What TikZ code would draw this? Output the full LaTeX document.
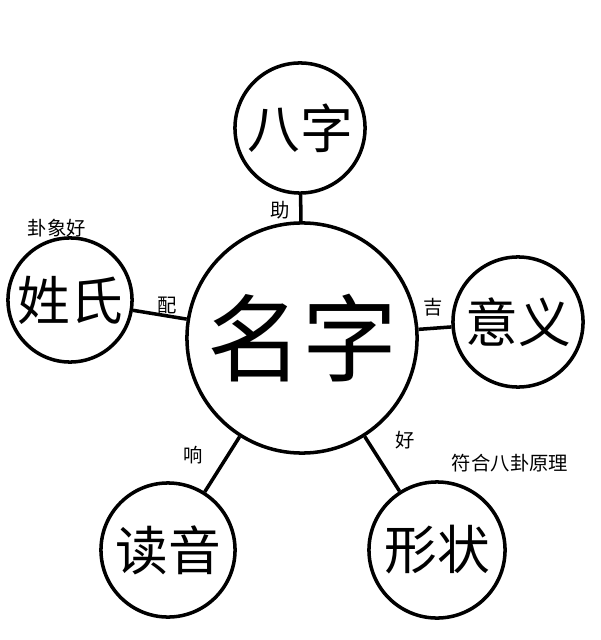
\documentclass[tikz,border=0pt]{standalone}
\usepackage{fontspec}
\setmainfont{Noto Sans CJK SC}
\usetikzlibrary{positioning}
\tikzset{
  ball/.style={draw, circle, line width=1pt, fill=white, inner sep=0pt},
  tag/.style={font=\fontsize{5.5}{6}\selectfont, inner sep=1pt}
}
\begin{document}
\begin{tikzpicture}[x=0.01cm,y=-0.01cm]
	\useasboundingbox (0,0) rectangle (600,640);
	\node[ball, minimum size=2.3cm, font=\fontsize{27}{30}\selectfont] (name) at (302,338) {名字};
	\node[ball, minimum size=1.3cm, font=\fontsize{15}{17}\selectfont] (bazi) at (300,128) {八字};
	\node[ball, minimum size=1.24cm, font=\fontsize{15}{17}\selectfont] (surname) at (70,300) {姓氏};
	\node[ball, minimum size=1.3cm, font=\fontsize{15}{17}\selectfont] (meaning) at (518,322) {意义};
	\node[ball, minimum size=1.34cm, font=\fontsize{15}{17}\selectfont] (sound) at (168,550) {读音};
	\node[ball, minimum size=1.36cm, font=\fontsize{15}{17}\selectfont] (shape) at (437,550) {形状};
	\draw[line width=1pt] (bazi) -- (name);
	\draw[line width=1pt] (surname) -- (name);
	\draw[line width=1pt] (meaning) -- (name);
	\draw[line width=1pt] (sound) -- (name);
	\draw[line width=1pt] (shape) -- (name);
	\node[tag] (zhu) at (280,210) {助};
	\node[tag] (pei) at (167,305) {配};
	\node[tag] (ji) at (433,307) {吉};
	\node[tag] (xiang) at (193,455) {响};
	\node[tag] (hao) at (405,440) {好};
	\node[tag] (guaxiang) at (57,228) {卦象好};
	\node[tag] (fuhe) at (510,463) {符合八卦原理};
\end{tikzpicture}
\end{document}
